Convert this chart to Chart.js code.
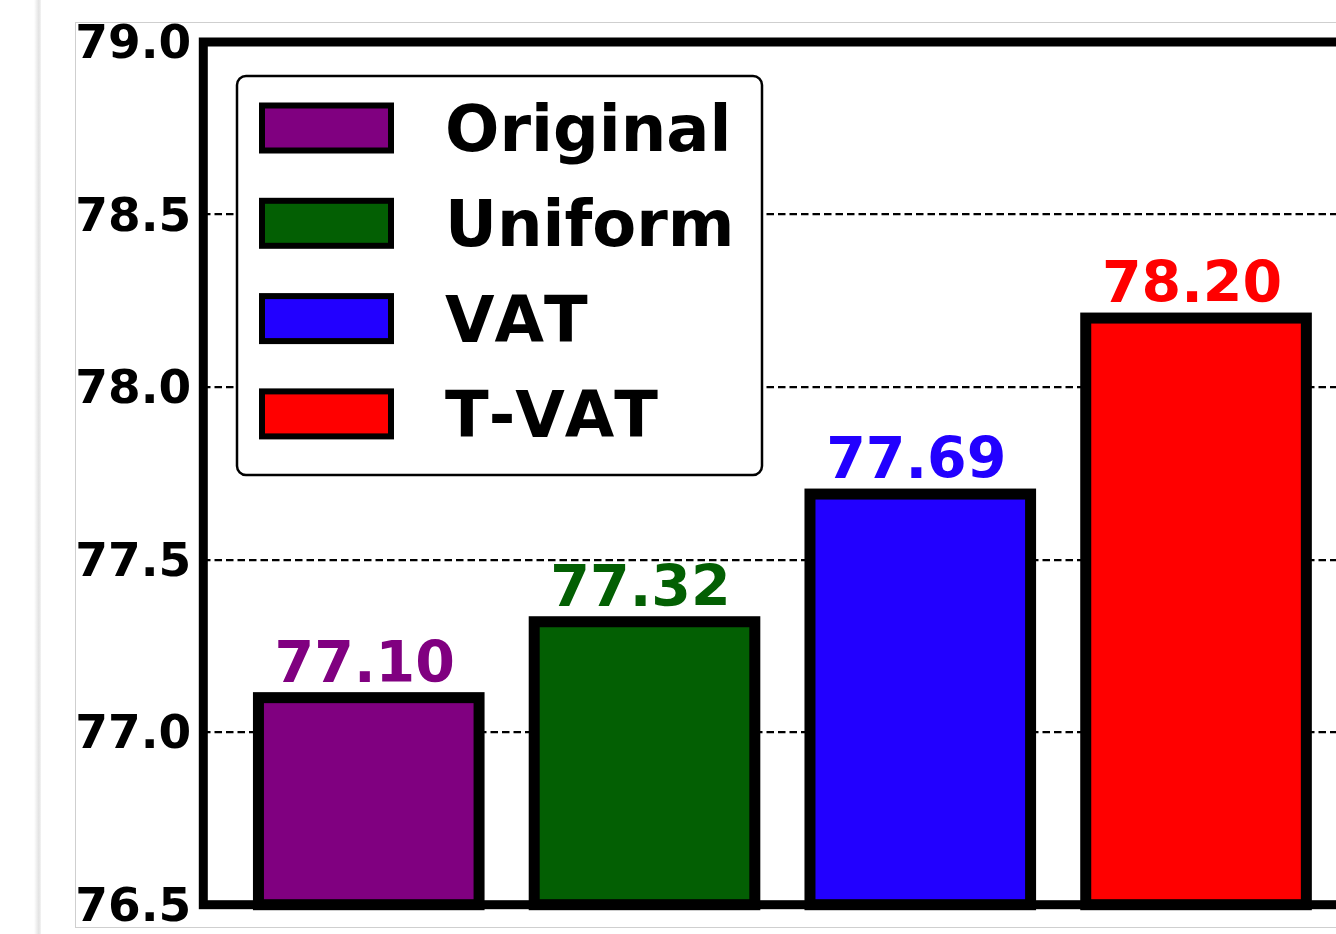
<!DOCTYPE html>
<html>
<head>
<meta charset="utf-8">
<script src="https://cdn.jsdelivr.net/npm/chart.js@4.4.1/dist/chart.umd.min.js"></script>
<style>
  html, body { margin: 0; padding: 0; background: #fff; overflow: hidden; }
  #page { position: relative; width: 1336px; height: 934px; overflow: hidden; }
  #shade { position: absolute; left: 34px; top: 0; width: 7px; height: 934px;
           background: linear-gradient(to right, #fff, #e2e2e2 70%, #f4f4f4); }
  #frame { position: absolute; left: 75px; top: 22px; width: 1400px; height: 904px;
           border: 1px solid #cfcfcf; }
  #wrap { position: absolute; left: 0; top: 0; width: 1400px; height: 934px; }
</style>
</head>
<body>
<div id="page">
  <div id="shade"></div>
  <div id="frame"></div>
  <div id="wrap"><canvas id="barChart"></canvas></div>
</div>
<script>
const methods = ['Original', 'Uniform', 'VAT', 'T-VAT'];
const accuracy = [77.10, 77.32, 77.69, 78.20];
const yTicks = [76.5, 77.0, 77.5, 78.0, 78.5, 79.0];
const barColors = ['#800080', '#035f03', '#2200ff', '#ff0000'];

const FONT = '"DejaVu Sans", sans-serif';

// outlines, value labels, spines and legend drawn on top like matplotlib
const overlay = {
    id: 'overlay',
    afterDatasetsDraw(chart) {
        const ctx = chart.ctx;
        const area = chart.chartArea;
        const meta = chart.getDatasetMeta(0);
        ctx.save();
        ctx.fontKerning = 'none';

        meta.data.forEach((bar, i) => {
            const p = bar.getProps(['x', 'y', 'base', 'width'], true);
            const base = Math.min(p.base, area.bottom);
            ctx.lineWidth = 11;
            ctx.strokeStyle = '#000';
            ctx.strokeRect(p.x - p.width / 2, p.y, p.width, base - p.y);

            ctx.fillStyle = barColors[i];
            ctx.font = 'bold 57px ' + FONT;
            ctx.textAlign = 'center';
            ctx.textBaseline = 'alphabetic';
            ctx.fillText(accuracy[i].toFixed(2), p.x - 4, p.y - 16);
        });

        // spines
        ctx.lineWidth = 9;
        ctx.strokeStyle = '#000';
        ctx.strokeRect(area.left, area.top, area.right - area.left, area.bottom - area.top);

        // legend box
        const lx = 237, ly = 76, lw = 525, lh = 399, r = 9;
        ctx.beginPath();
        ctx.roundRect(lx, ly, lw, lh, r);
        ctx.fillStyle = '#fff';
        ctx.fill();
        ctx.lineWidth = 2.5;
        ctx.stroke();

        methods.forEach((name, i) => {
            const cy = 127.5 + i * 95.3;
            ctx.fillStyle = barColors[i];
            ctx.fillRect(262, cy - 22, 129, 45);
            ctx.lineWidth = 6;
            ctx.strokeStyle = '#000';
            ctx.strokeRect(262, cy - 22, 129, 45);

            ctx.fillStyle = '#000';
            ctx.font = 'bold 64px ' + FONT;
            ctx.textAlign = 'left';
            ctx.textBaseline = 'alphabetic';
            ctx.fillText(name, 445, cy + 23.5);
        });
        ctx.restore();
    }
};

new Chart(document.getElementById('barChart'), {
    type: 'bar',
    data: {
        datasets: [{
            data: accuracy.map((v, i) => ({ x: i, y: v })),
            backgroundColor: barColors,
            borderWidth: 0,
            categoryPercentage: 1,
            barPercentage: 0.8
        }]
    },
    options: {
        responsive: true,
        maintainAspectRatio: false,
        animation: false,
        layout: { padding: { left: 0, top: 42, right: 38.5, bottom: 29.3 } },
        plugins: {
            legend: { display: false },
            tooltip: { enabled: false }
        },
        scales: {
            x: {
                type: 'linear',
                min: -0.6,
                max: 3.6,
                offset: false,
                display: false,
                afterBuildTicks(scale) {
                    scale.ticks = methods.map((m, i) => ({ value: i }));
                }
            },
            y: {
                min: yTicks[0],
                max: yTicks[yTicks.length - 1],
                afterBuildTicks(scale) {
                    scale.ticks = yTicks.map(v => ({ value: v }));
                },
                afterFit(scale) {
                    scale.width = 203.3;
                    scale.paddingTop = 0;
                    scale.paddingBottom = 0;
                },
                ticks: {
                    callback: v => v.toFixed(1),
                    color: '#000',
                    padding: 12,
                    labelOffset: 4,
                    font: { family: FONT, weight: 'bold', size: 47, lineHeight: 1 }
                },
                grid: {
                    color: '#000',
                    lineWidth: 2.2,
                    drawTicks: false
                },
                border: { display: false, dash: [7.5, 4] }
            }
        }
    },
    plugins: [overlay]
});
</script>
</body>
</html>
